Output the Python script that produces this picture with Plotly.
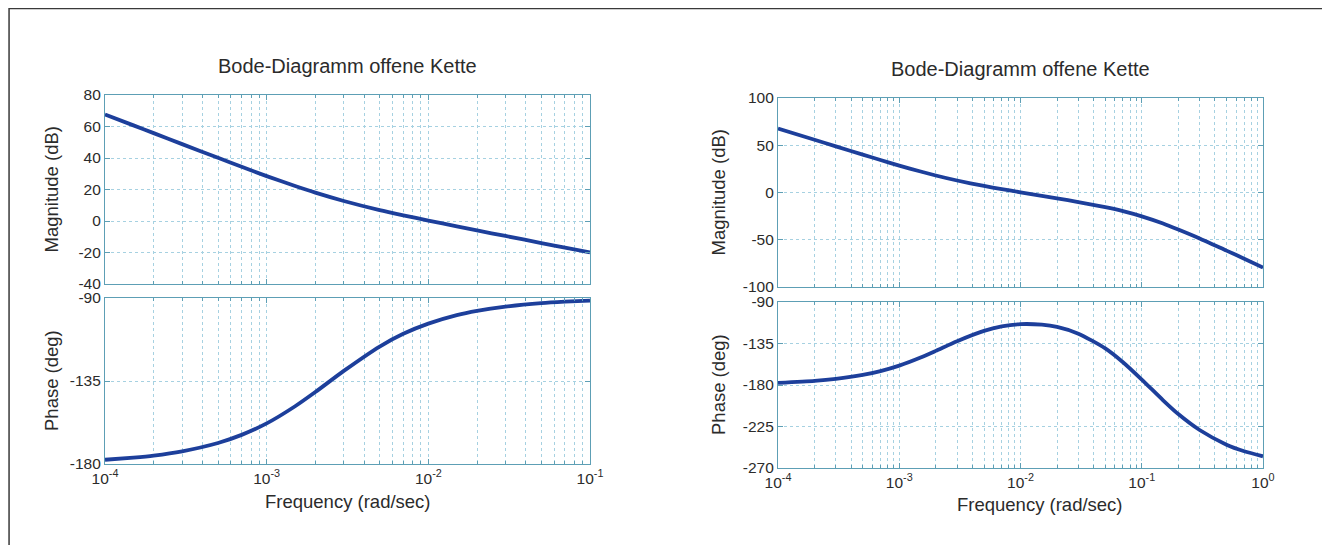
import plotly.graph_objects as go

# the page places the figure 8 px from the top-left corner (body margin)
OFF = 8
W, H = 1330 - OFF, 545 - OFF

# ---------------- data ----------------
freq_left = [1e-4, 1.5e-4, 2e-4, 3e-4, 5e-4, 7e-4, 1e-3, 1.5e-3, 2e-3, 3e-3, 5e-3, 7e-3,
             1e-2, 1.5e-2, 2e-2, 3e-2, 5e-2, 7e-2, 1e-1]
mag_left = [67.6, 60.7, 55.8, 48.8, 40.1, 34.4, 28.5, 22.2, 18.0, 12.7, 6.9, 3.6,
            0.3, -3.4, -6.0, -9.5, -14.0, -16.9, -20.0]
phase_left = [-177.7, -176.5, -175.4, -173.1, -168.6, -164.2, -158.0, -148.7, -141.0, -129.5,
              -116.3, -109.4, -103.9, -99.3, -97.0, -94.7, -92.8, -92.0, -91.4]

freq_right = [1e-4, 2e-4, 3e-4, 5e-4, 7e-4, 1e-3, 1.5e-3, 2e-3, 3e-3, 5e-3, 7e-3, 1e-2,
              1.5e-2, 2e-2, 3e-2, 5e-2, 7e-2, 1e-1, 0.15, 0.2, 0.3, 0.5, 0.7, 1.0]
mag_right = [67.6, 55.8, 48.8, 40.1, 34.4, 28.5, 22.2, 18.0, 12.7, 6.9, 3.6, 0.2,
             -3.6, -6.2, -10.1, -15.5, -19.7, -25.2, -32.8, -39.2, -48.6, -61.5, -70.0, -79.5]
phase_right = [-177.8, -175.6, -173.4, -169.1, -164.9, -159.0, -150.2, -143.0, -132.5, -121.3,
               -116.5, -114.0, -114.6, -117.0, -124.3, -140.3, -155.3, -174.1, -196.6, -211.5,
               -228.8, -244.7, -251.8, -257.3]

title_text = "Bode-Diagramm offene Kette"
mag_label = "Magnitude (dB)"
phase_label = "Phase (deg)"
freq_label = "Frequency (rad/sec)"

left_decades = [-4, -3, -2, -1]
right_decades = [-4, -3, -2, -1, 0]

left_mag_ticks = [-40, -20, 0, 20, 40, 60, 80]
left_phase_ticks = [-180, -135, -90]
right_mag_ticks = [-100, -50, 0, 50, 100]
right_phase_ticks = [-270, -225, -180, -135, -90]

# ---------------- style ----------------
FONT = "Liberation Sans, Arial, Helvetica, sans-serif"
TXT = "#2b2b2b"
AXC = "#5d9fb5"
GRID = "#a6d1e1"
LINE = "#1d3f9b"


def px_x(p):
    return (p - OFF) / W


def px_y(p):
    return 1 - (p - OFF) / H


fig = go.Figure()

panels = [
    ("x", "y", freq_left, mag_left, (105, 590), (95, 284), left_decades, [-40, 80], left_mag_ticks, False),
    ("x2", "y2", freq_left, phase_left, (105, 590), (298, 464), left_decades, [-180, -90], left_phase_ticks, True),
    ("x3", "y3", freq_right, mag_right, (778, 1263), (98, 287), right_decades, [-100, 100], right_mag_ticks, False),
    ("x4", "y4", freq_right, phase_right, (778, 1263), (302, 468), right_decades, [-270, -90], right_phase_ticks, True),
]

layout_axes = {}
for xa, ya, fx, vals, xd, yd, decs, yr, yt, showx in panels:
    fig.add_trace(go.Scatter(x=fx, y=vals, mode="lines", xaxis=xa, yaxis=ya,
                             line=dict(color=LINE, width=3.8, shape="spline", smoothing=0.6),
                             showlegend=False, hoverinfo="skip"))
    minor_vals = [m * 10 ** e for e in decs[:-1] for m in range(2, 10)]
    xkey = "xaxis" + xa[1:]
    ykey = "yaxis" + ya[1:]
    layout_axes[xkey] = dict(
        type="log", range=[decs[0], decs[-1]],
        domain=[px_x(xd[0]), px_x(xd[1])], anchor=ya, automargin=False,
        tickmode="array", tickvals=[10 ** d for d in decs],
        ticktext=["10<sup>%d</sup>" % d for d in decs],
        showticklabels=showx,
        tickfont=dict(family=FONT, size=15.5, color=TXT),
        ticks="inside", ticklen=5, tickcolor=AXC, tickwidth=1,
        showline=True, linecolor=AXC, linewidth=1.2, mirror="ticks",
        showgrid=True, gridcolor=GRID, griddash="dot", gridwidth=1,
        minor=dict(tickmode="array", tickvals=minor_vals, ticks="inside", ticklen=3,
                   tickcolor=AXC, showgrid=True, gridcolor=GRID, griddash="dot", gridwidth=1),
        zeroline=False, fixedrange=True,
    )
    layout_axes[ykey] = dict(
        range=yr, domain=[px_y(yd[1]), px_y(yd[0])], anchor=xa, automargin=False,
        tickmode="array", tickvals=yt, ticktext=[str(v) for v in yt],
        tickfont=dict(family=FONT, size=15.5, color=TXT),
        ticks="inside", ticklen=5, tickcolor=AXC,
        showline=True, linecolor=AXC, linewidth=1.2, mirror="ticks",
        showgrid=True, gridcolor=GRID, griddash="dot", gridwidth=1,
        zeroline=False, fixedrange=True,
    )

fig.update_layout(**layout_axes)

annotations = []
for cx, ty in [(347.5, 66), (1020.5, 69)]:
    annotations.append(dict(text=title_text, x=px_x(cx), y=px_y(ty), xref="paper", yref="paper",
                            showarrow=False, xanchor="center", yanchor="middle",
                            font=dict(family=FONT, size=20, color=TXT)))
for cx, ty in [(348, 501), (1040, 504)]:
    annotations.append(dict(text=freq_label, x=px_x(cx), y=px_y(ty), xref="paper", yref="paper",
                            showarrow=False, xanchor="center", yanchor="middle",
                            font=dict(family=FONT, size=18.5, color=TXT)))
for lx, cy, txt in [(51, 189.5, mag_label), (51, 381, phase_label),
                    (718, 192.5, mag_label), (718, 385, phase_label)]:
    annotations.append(dict(text=txt, x=px_x(lx), y=px_y(cy), xref="paper", yref="paper",
                            showarrow=False, xanchor="center", yanchor="middle", textangle=-90,
                            font=dict(family=FONT, size=18.5, color=TXT)))

fig.update_layout(
    width=W, height=H,
    margin=dict(l=0, r=0, t=0, b=0, pad=0, autoexpand=False),
    paper_bgcolor="white", plot_bgcolor="white",
    annotations=annotations,
    shapes=[dict(type="rect", xref="paper", yref="paper",
                 x0=0.0008, x1=px_x(1325.5), y0=-0.1, y1=0.999,
                 line=dict(color="#3a3a3a", width=1.5), fillcolor="rgba(0,0,0,0)", layer="below")],
)

fig.write_html("out.html")
